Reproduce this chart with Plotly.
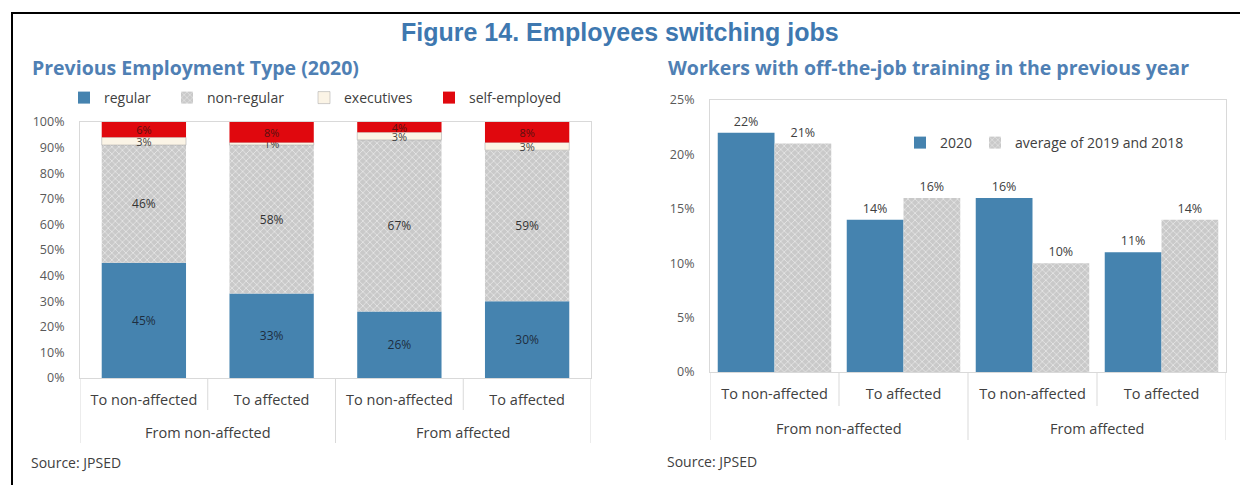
import plotly.graph_objects as go

# ---- data -------------------------------------------------------------
sub_cats = ["To non-affected", "To affected", "To non-affected", "To affected"]
group_cats = ["From non-affected", "From affected"]

# Previous employment type of job switchers in 2020 (%)
emp_types = ["regular", "non-regular", "executives", "self-employed"]
regular = [45, 33, 26, 30]
non_regular = [46, 58, 67, 59]
executives = [3, 1, 3, 3]
self_employed = [6, 8, 4, 8]

# Share of workers with off-the-job training in the previous year (%)
training_series = ["2020", "average of 2019 and 2018"]
training_2020 = [22, 14, 16, 11]
training_avg_1819 = [21, 16, 10, 14]

left_yticks = list(range(0, 101, 10))
right_yticks = list(range(0, 26, 5))

# ---- layout helpers -----------------------------------------------------
W, H = 1240, 485


def px(x):
    return x / W


def py(y):
    return 1 - y / H


FONT = "Open Sans"
TXT = "#404040"
BLUE = "#4583AF"
GREY_BG = "#C9C9C9"
GREY_FG = "#E6E6E6"
RED = "#E0080E"
CREAM = "#FBF4E6"
TITLE_BLUE = "#3E78B0"
SUB_BLUE = "#4F80B4"

fig = go.Figure()

xidx = list(range(len(sub_cats)))
hatch = dict(shape="x", bgcolor=GREY_BG, fgcolor=GREY_FG, size=5,
             solidity=0.3, fillmode="replace")

# ---- left: stacked employment type ---------------------------------------
stack_series = [regular, non_regular, executives, self_employed]
stack_colors = [BLUE, GREY_BG, CREAM, RED]
stack_text_colors = ["#1E2E40", "#333333", "#404040", "#5A1010"]
stack_text_sizes = [12, 12, 11, 11]
# one legend per entry so each can sit at its own spot above the plot
left_legend_ids = ["legend", "legend3", "legend4", "legend5"]
base = [0] * len(sub_cats)
for name, vals, col, tcol, tsize, lg in zip(emp_types, stack_series, stack_colors,
                                             stack_text_colors, stack_text_sizes,
                                             left_legend_ids):
    marker = dict(color=col, line=dict(width=0))
    if name == "non-regular":
        marker["pattern"] = hatch
    if name == "executives":
        marker["line"] = dict(width=0.5, color="#A0A0A0")
    fig.add_trace(go.Bar(
        x=xidx, y=vals, base=base[:], name=name,
        width=0.66, offset=-0.33,
        marker=marker, showlegend=True,
        text=[f"{v}%" for v in vals], textposition="inside", textangle=0,
        insidetextanchor="middle", constraintext="none",
        textfont=dict(family=FONT, size=tsize, color=tcol),
        xaxis="x", yaxis="y", legend=lg,
        hovertemplate="%{y}%<extra>" + name + "</extra>",
    ))
    base = [b + v for b, v in zip(base, vals)]

# ---- right: grouped training shares --------------------------------------
fig.add_trace(go.Bar(
    x=xidx, y=training_2020, name=training_series[0],
    width=0.44, offset=-0.44, showlegend=True,
    marker=dict(color=BLUE, line=dict(width=0)),
    text=[f"{v}%" for v in training_2020], textposition="outside", textangle=0,
    cliponaxis=False, textfont=dict(family=FONT, size=12.5, color=TXT),
    xaxis="x2", yaxis="y2", legend="legend2",
))
fig.add_trace(go.Bar(
    x=xidx, y=training_avg_1819, name=training_series[1],
    width=0.44, offset=0.0, showlegend=True,
    marker=dict(color=GREY_BG, line=dict(width=0), pattern=hatch),
    text=[f"{v}%" for v in training_avg_1819], textposition="outside", textangle=0,
    cliponaxis=False, textfont=dict(family=FONT, size=12.5, color=TXT),
    xaxis="x2", yaxis="y2", legend="legend6",
))

axis_line = "#D9D9D9"
common_x = dict(
    type="linear", range=[-0.5, 3.5], tickmode="array", tickvals=xidx,
    ticktext=sub_cats, showgrid=False, zeroline=False, showline=True,
    linecolor=axis_line, mirror=True, ticks="", ticklabelstandoff=9,
    automargin=False, tickfont=dict(family=FONT, size=14.5, color=TXT),
)
common_y = dict(
    showgrid=False, zeroline=False, showline=True, linecolor=axis_line,
    mirror=True, ticks="", automargin=False, ticklabelstandoff=12,
    tickfont=dict(family=FONT, size=12.5, color="#595959"),
)


def legend_at(x_text, y_mid):
    # plotly puts the entry text ~40px right of the legend's left edge
    return dict(orientation="h", x=px(x_text - 38), y=py(y_mid), xanchor="left",
                yanchor="middle", font=dict(family=FONT, size=14, color=TXT),
                bgcolor="rgba(0,0,0,0)", visible=True)


fig.update_layout(
    width=W, height=H, autosize=False,
    margin=dict(l=0, r=0, t=0, b=0, autoexpand=False),
    paper_bgcolor="white", plot_bgcolor="white",
    barmode="overlay", showlegend=True,
    uniformtext=dict(minsize=11, mode="show"),
    font=dict(family=FONT, color=TXT),
    xaxis=dict(domain=[px(80), px(591)], anchor="y", **common_x),
    yaxis=dict(domain=[py(378), py(122)], anchor="x", range=[0, 100],
               tickvals=left_yticks, ticktext=[f"{t}%" for t in left_yticks],
               **common_y),
    xaxis2=dict(domain=[px(710), px(1226)], anchor="y2", **common_x),
    yaxis2=dict(domain=[py(372), py(100)], anchor="x2", range=[0, 25],
                tickvals=right_yticks, ticktext=[f"{t}%" for t in right_yticks],
                **common_y),
    legend=legend_at(102, 98),
    legend3=legend_at(205, 98),
    legend4=legend_at(342, 98),
    legend5=legend_at(467, 98),
    legend2=legend_at(938, 143),
    legend6=legend_at(1013, 143),
)

# ---- category separators and group labels --------------------------------
shapes = []
for xa, y_axis_px, sub_px, grp_px in [("x", 378, 410, 443), ("x2", 372, 406, 440)]:
    for b in [-0.5, 0.5, 1.5, 2.5, 3.5]:
        bottom = grp_px if b in (-0.5, 1.5, 3.5) else sub_px
        shapes.append(dict(type="line", xref=xa, yref="paper", x0=b, x1=b,
                           y0=py(y_axis_px), y1=py(bottom),
                           line=dict(color=axis_line, width=1)))

# outer frame
shapes.append(dict(type="rect", xref="paper", yref="paper",
                   x0=px(12), x1=px(1250), y0=py(495), y1=py(13),
                   line=dict(color="black", width=2), fillcolor="rgba(0,0,0,0)"))
fig.update_layout(shapes=shapes)

annotations = []
for xa, y_lab in [("x", 432), ("x2", 428)]:
    for gi, g in enumerate(group_cats):
        annotations.append(dict(text=g, xref=xa, yref="paper", x=0.5 + 2 * gi,
                                y=py(y_lab), showarrow=False, yanchor="middle",
                                font=dict(family=FONT, size=14.5, color=TXT)))

annotations += [
    dict(text="<b>Figure 14. Employees switching jobs</b>", xref="paper", yref="paper",
         x=px(620), y=py(32), showarrow=False, xanchor="center", yanchor="middle",
         font=dict(family="Liberation Sans", size=25, color=TITLE_BLUE)),
    dict(text="<b>Previous Employment Type (2020)</b>", xref="paper", yref="paper",
         x=px(30), y=py(68), showarrow=False, xanchor="left", yanchor="middle",
         font=dict(family=FONT, size=19.5, color=SUB_BLUE)),
    dict(text="<b>Workers with off-the-job training in the previous year</b>",
         xref="paper", yref="paper", x=px(666), y=py(68), showarrow=False,
         xanchor="left", yanchor="middle",
         font=dict(family=FONT, size=19.5, color=SUB_BLUE)),
    dict(text="Source: JPSED", xref="paper", yref="paper", x=px(29), y=py(462),
         showarrow=False, xanchor="left", yanchor="middle",
         font=dict(family=FONT, size=14, color=TXT)),
    dict(text="Source: JPSED", xref="paper", yref="paper", x=px(665), y=py(461),
         showarrow=False, xanchor="left", yanchor="middle",
         font=dict(family=FONT, size=14, color=TXT)),
]
fig.update_layout(annotations=annotations)

fig.write_html("out.html")
